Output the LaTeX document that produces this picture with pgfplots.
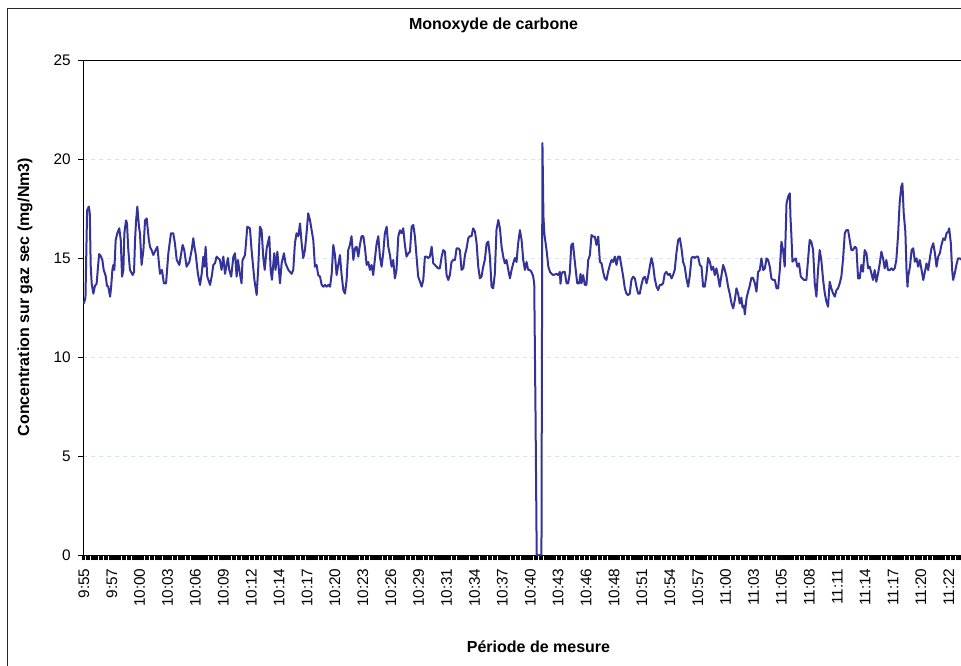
\documentclass[border=0pt]{standalone}
\usepackage{fontspec}
\setmainfont{Liberation Sans}
\usepackage{pgfplots}
\pgfplotsset{compat=1.18}
\definecolor{cobleu}{RGB}{51,51,153}
\definecolor{gridc}{RGB}{214,226,238}
\begin{document}
\begin{tikzpicture}
\useasboundingbox (0,0) rectangle (720.75pt,-499.5pt);
\clip (0,0) rectangle (720.75pt,-499.5pt);
\draw[black!85, line width=0.75pt] (5.25pt,-6.75pt) rectangle (760pt,-530pt);
\begin{axis}[
  at={(62.25pt,-416.25pt)}, anchor=south west,
  scale only axis, width=683.25pt, height=371.25pt,
  xmin=-0.5, xmax=554.5, ymin=0, ymax=25,
  ytick={0,5,...,25},
  xtick={0,17,...,527},
  xticklabels={9:55,9:57,10:00,10:03,10:06,10:09,10:12,10:14,10:17,10:20,10:23,10:26,10:29,10:31,10:34,10:37,10:40,10:43,10:46,10:48,10:51,10:54,10:57,11:00,11:03,11:05,11:08,11:11,11:14,11:17,11:20,11:22},
  minor xtick={-0.5,0.5,...,554.5},
  tick align=outside, tick pos=left,
  major tick length=4pt, minor tick length=4pt,
  every tick/.style={black, line width=0.6pt},
  minor tick style={black, line width=1.05pt},
  ymajorgrids, xmajorgrids=false,
  major grid style={gridc, dash pattern=on 3pt off 3pt, line width=0.75pt},
  axis line style={black, line width=0.75pt},
  /pgf/number format/assume math mode=true,
  tick label style={font=\fontsize{11.5}{13}\selectfont},
  xticklabel style={rotate=90, anchor=east, inner sep=0pt},
  yticklabel style={anchor=east, inner sep=0pt},
  xticklabel shift=6pt, yticklabel shift=5pt,
  every axis title shift=0pt,
  title={Monoxyde de carbone},
  title style={font=\bfseries\fontsize{12}{14}\selectfont, at={(axis description cs:0.4506,1.0707)}, anchor=center},
  xlabel={Période de mesure},
  xlabel style={font=\bfseries\fontsize{12}{14}\selectfont, at={(axis description cs:0.5,-0.1859)}, anchor=center},
  ylabel={Concentration sur gaz sec (mg/Nm3)},
  ylabel style={font=\bfseries\fontsize{12}{14}\selectfont, at={(axis description cs:-0.0637,0.521)}, anchor=center},
]
\addplot[cobleu, line width=1.5pt, line join=round] coordinates {
(0,12.7)(1,13.0)(2,17.4)(3,17.6)(3.6,17.3)(4.2,14.6)(4.8,13.7)(5.8,13.2)(6.8,13.6)(7.8,13.7)(9.3,15.2)(10.3,15.1)(11.3,14.9)(12.1,14.4)(13.3,14.1)(14.1,13.6)(14.9,13.55)(16,13.05)(16.6,13.5)(17.4,14.4)(18,14.65)(18.6,14.4)(19.4,15.9)(20.4,16.25)(21.6,16.5)(22.5,15.9)(23.3,14.06)(24.1,14.4)(24.7,16.25)(25.7,16.9)(26.3,16.75)(27.1,15.4)(28.1,14.4)(29.8,14.14)(30.6,14.3)(31.2,15.9)(31.8,16.84)(32.6,17.6)(33.6,16.58)(34.2,16.25)(35.2,14.65)(36.3,15.4)(37.3,16.9)(38.3,17.0)(39.5,16.0)(40.3,15.57)(41.3,15.4)(42.3,15.15)(44.8,15.57)(46.4,14.2)(47.6,14.4)(48.8,13.72)(50.1,13.72)(51.5,15.24)(53.1,16.25)(54.5,16.25)(55.5,15.74)(56.6,14.9)(58.2,14.65)(59,15.07)(60.2,15.66)(61.2,15.4)(62.6,14.56)(64.3,14.8)(65.7,15.4)(66.7,16.0)(67.5,15.5)(68.1,15.24)(69.5,14.2)(70.8,13.64)(71.8,14.2)(72.8,15.07)(73.4,14.56)(74.2,15.57)(75.2,14.06)(76.9,13.64)(77.9,14.06)(78.9,14.65)(79.9,14.73)(80.9,15.07)(82.9,14.9)(83.9,14.4)(85,15.07)(86,14.2)(87,14.65)(87.8,15.0)(88.6,14.4)(89.8,14.06)(91.1,15.07)(92.1,15.24)(93.1,14.06)(93.9,14.9)(95.1,14.2)(96.1,13.72)(96.7,14.9)(98.2,15.15)(99.6,16.58)(101.2,16.5)(102.2,15.4)(103.9,13.9)(105.3,13.13)(106.3,14.56)(107.3,16.58)(108.3,16.41)(109.3,15.07)(110.2,14.4)(111.4,15.49)(113,16.08)(113.8,14.4)(114.6,13.9)(116,15.24)(116.8,14.4)(117.9,15.32)(118.7,14.56)(119.5,13.72)(120.5,14.73)(121.9,15.24)(122.9,14.73)(124.6,14.4)
(125.6,14.3)(126.6,14.2)(127.6,14.4)(128.6,15.74)(129.6,16.25)(130.7,16.1)(131.7,16.75)(132.7,15.74)(133.7,15.0)(134.7,15.4)(135.7,16.25)(136.7,17.26)(137.8,16.9)(138.8,16.4)(139.8,15.9)(140.8,14.56)(141.8,14.65)(142.8,14.14)(143.9,14.06)(144.9,13.64)(145.9,13.55)(146.9,13.64)(147.9,13.55)(149,13.64)(150,13.55)(151,14.2)(152,15.66)(153,15.15)(154,14.14)(155,14.65)(156,15.15)(157,14.2)(158.1,13.38)(159.1,13.2)(160.1,13.89)(161.1,15.4)(162.1,15.66)(163.1,16.1)(164.2,14.9)(165.2,15.49)(166.2,15.57)(167.2,15.07)(168.2,15.66)(169.2,16.1)(170.3,16.1)(171.3,15.49)(172.3,14.65)(173.3,14.8)(174.3,14.4)(175.3,14.65)(176.3,14.14)(177.4,15.0)(178.4,15.74)(179.4,16.1)(180.4,15.07)(181.4,14.56)(182.4,15.24)(183.4,16.25)(184.5,16.58)(185.5,15.57)(186.5,15.15)(187.5,14.56)(188.5,14.9)(189.5,13.97)(190.5,14.4)(191.6,16.1)(192.6,16.4)(193.6,16.25)(194.6,16.5)(195.6,15.66)(196.6,15.07)(197.7,15.24)(198.7,15.32)(199.7,16.58)(200.7,16.67)(201.7,16.1)(202.7,15.07)(203.7,14.06)(204.8,13.8)(205.8,13.55)(206.8,13.89)(207.8,15.07)(208.8,15.07)(209.8,15.0)(210.8,15.07)(211.9,15.57)(212.9,14.73)(213.9,14.65)(214.9,14.56)(215.9,14.48)(216.9,14.48)(218,15.07)(219,15.4)(220,15.32)(221,14.14)(222,13.89)(223,14.14)(224,14.8)(225.1,14.9)(226.1,14.9)(227.1,15.49)(228.1,15.49)(229.1,15.4)(230.1,14.4)(231.2,14.48)(232.2,15.15)(233.2,15.49)(234.2,16.0)(235.2,16.1)(236.2,16.1)(237.2,16.5)(238.3,16.33)(239.3,15.74)(240.3,14.56)(241.3,13.97)(242.3,14.06)(243.3,14.56)(244.3,14.9)(245.4,15.74)(246.4,15.83)(247.4,15.07)(248.4,13.55)(249.4,13.47)(250.4,14.2)(251.4,16.41)(252.5,16.92)(253.5,16.5)(254.5,15.57)(255.5,15.07)(256.5,14.73)(257.5,14.9)(258.6,14.4)(259.6,13.97)(260.6,14.4)(261.6,14.73)(262.6,15.0)(263.6,14.8)(264.6,15.74)(265.7,16.41)(266.7,15.91)(267.7,14.9)(268.7,14.4)(269.7,14.8)(270.7,14.4)(271.6,14.4)(272.7,14.3)(273.7,14.1)(274.4,13.7)(275.2,7)(275.9,0)(278.8,0)(279.4,20.8)(280,17.1)(280.6,16.2)(281.9,15.4)(283,14.56)(284,14.3)(285,14.2)(286,14.14)(288,14.2)(289,14.14)(290,14.3)(290.4,13.7)(291,14.2)(292,14.3)(293,14.3)(294.1,13.72)(295.1,13.72)(296,14.2)(297,15.66)(298,15.74)(298.8,15.07)(299.8,14.3)(300.6,13.72)(301.8,13.72)(302.6,14.2)(303.2,13.72)(304.2,14.14)(305.2,13.64)(306.2,13.64)(307.3,14.9)(308.3,15.15)(309.3,16.16)(310.3,16.08)(311.3,16.08)(312.3,15.66)(313.4,16.08)(314.4,14.8)(315.4,14.73)(316.4,14.3)(317.4,13.97)(318.4,13.89)(319.4,14.3)(320.5,14.65)(321.5,14.9)(322.5,14.8)(323.5,15.07)(324.5,14.65)(325.5,15.07)(326.5,15.07)(327.6,14.56)(328.6,14.06)(329.6,13.47)(330.6,13.2)(331.6,13.13)(332.6,13.2)(333.6,13.89)(334.7,14.06)(335.7,13.97)(336.7,13.55)(337.7,13.2)(338.7,13.2)(339.7,13.64)(340.7,13.97)(341.8,14.06)(342.8,13.72)(343.8,14.06)(344.8,14.56)(345.8,15.0)(346.8,14.65)(347.8,13.97)(348.9,13.55)(349.9,13.38)(350.9,13.64)(351.9,13.64)(352.9,13.72)(353.9,14.2)(354.9,14.3)(356,14.14)(357,14.2)(358,13.97)(359,14.14)(360,14.4)(361,15.24)(362.1,15.91)(363.1,16.0)(364.1,15.49)(365.1,14.8)(366.1,14.56)(367.1,13.97)(368.2,13.55)(369.2,14.14)(370.2,15.0)(371.2,15.07)(372.2,15.0)(373.2,15.07)(374.2,15.07)(375.3,14.65)(376.3,14.56)(377.3,13.55)(378.3,13.55)(379.3,14.14)(380.3,15.0)(381.4,14.8)(382.4,14.4)(383.4,14.56)(384.4,14.14)(385.4,14.48)(386.4,14.06)(387.4,13.55)(388.5,14.14)(389.5,14.65)(390.5,14.4)(391.5,14.06)(392.5,13.55)(393.5,13.2)(394.6,12.71)(395.6,12.46)(396.6,12.88)(397.6,13.47)(398.6,13.2)(399.6,12.7)(400.6,13.0)(401.3,12.5)(402.1,12.6)(402.7,12.15)(403.7,12.95)(404.7,13.3)(405.7,13.6)(406.7,14.0)(407.7,14.0)(408.8,13.72)(409.8,13.3)(410.8,14.3)(411.8,14.39)(412.8,14.98)(413.9,14.39)(414.9,14.48)(415.9,14.98)(416.9,14.9)(417.9,14.56)(418.9,13.97)(419.9,13.89)(421,13.89)(422,13.47)(423,13.47)(424,14.39)(425,15.82)(426,15.4)(427,14.56)(428.1,17.76)(429.1,18.1)(430.1,18.27)(430.5,17.09)(431.1,16.08)(431.7,14.81)(432.7,14.9)(433.7,14.98)(434.7,14.56)(435.7,14.73)(436.8,14.06)(437.8,13.97)(438.8,13.89)(440.2,13.89)(441.2,14.9)(442.2,15.91)(443.2,15.82)(444.3,15.4)(445.3,13.72)(446.3,13.05)(447.3,14.39)(448.3,15.4)(449.3,14.9)(450.4,13.89)(451.4,13.22)(452.4,12.79)(453.4,12.54)(454.4,13.8)(455.4,13.47)(456.4,13.22)(457.5,13.05)(458.5,13.38)(459.5,13.47)(460.5,13.72)(461.5,14.06)(462.5,14.9)(463.6,16.25)(464.6,16.41)(465.6,16.41)(466.6,15.91)(467.6,15.4)(468.6,15.4)(469.7,15.57)(470.7,15.49)(471.7,13.97)(472.7,13.97)(473.7,14.65)(474.7,14.31)(475.7,15.4)(476.8,15.24)(477.8,14.48)(478.8,14.56)(479.8,14.23)(480.8,13.89)(481.8,14.39)(482.8,13.8)(483.9,14.23)(484.9,14.73)(485.9,15.32)(486.9,14.98)(487.9,14.48)(488.9,14.9)(489.9,14.39)(491,14.39)(492,14.48)(493,14.39)(494,14.48)(495,14.9)(496,16.08)(497,17.76)(498,18.6)(498.7,18.77)(499.5,17.26)(500.5,16.33)(501.2,14.39)(501.8,13.55)(502.2,14.06)(503.3,14.56)(504.3,15.4)(505.3,15.49)(506.3,14.81)(507.3,14.98)(508.3,14.56)(509.3,14.9)(510.4,14.39)(511.4,13.89)(512.4,14.31)(513.4,14.73)(514.4,14.39)(515.4,14.98)(516.4,15.49)(517.5,15.74)(518.5,15.24)(519.5,14.56)(520.5,15.07)(521.5,15.24)(522.5,15.66)(523.6,15.99)(524.6,15.91)(525.6,16.25)(526.6,16.33)(527.2,16.5)(528.2,15.74)(529,14.39)(529.6,13.89)(530.6,14.23)(531.6,14.65)(532.6,14.98)(533.6,14.98)(535,14.9)(536,14.8)
};
\end{axis}
\end{tikzpicture}
\end{document}
